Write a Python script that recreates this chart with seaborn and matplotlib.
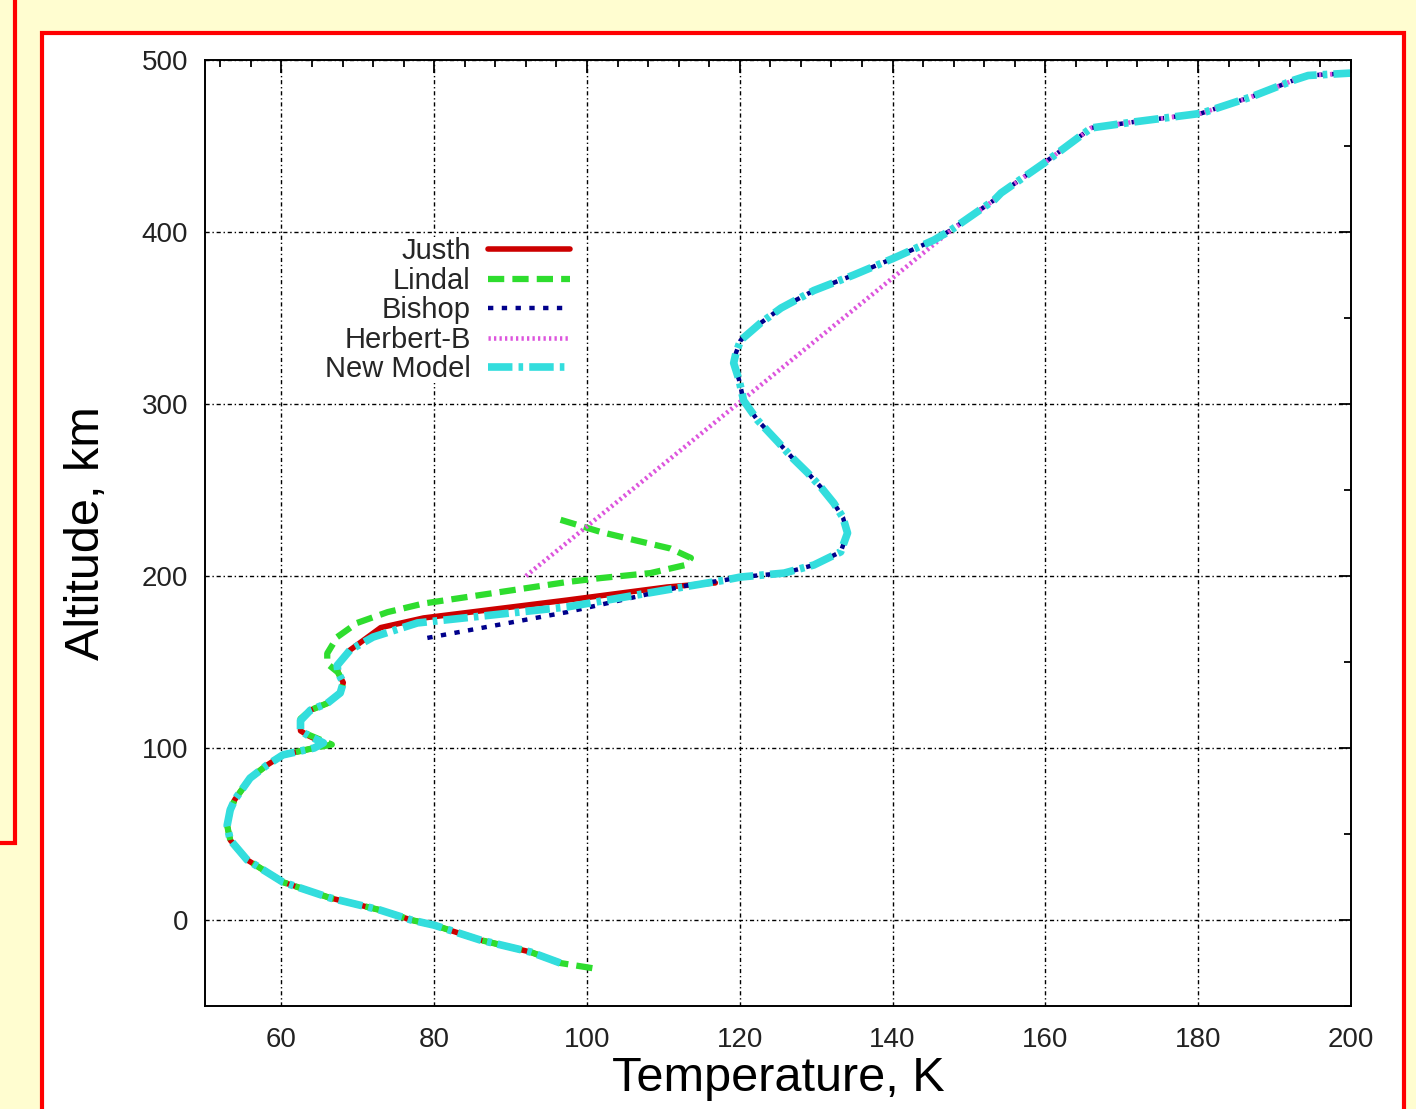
#!/usr/bin/env python3
"""
Temperature-altitude profiles: Justh, Lindal, Bishop, Herbert-B, New Model
"""
import matplotlib
matplotlib.use('Agg')
import pandas as pd
import matplotlib.pyplot as plt
import seaborn as sns
from matplotlib.patches import Rectangle
from matplotlib.ticker import MultipleLocator

sns.set_theme(style='white')
plt.rcParams['font.family'] = ['Liberation Sans', 'DejaVu Sans']

# common lower profile (Justh / New Model)
LOW_T = [96.5, 92.6, 86.0, 80.0, 77.0, 72.9, 66.4, 60.2, 55.5, 53.3, 52.9, 53.3, 53.9,
         55.9, 58.1, 60.2, 64.3, 65.5, 63.6, 62.5, 62.5, 63.8, 66.0, 67.7, 68.1, 67.4, 67.3]
LOW_ALT = [-25, -18.6, -11.6, -3, 0, 5.8, 12.8, 22, 35, 46.5, 55, 64, 70,
           82.5, 90, 96, 100, 103, 107, 110, 116, 122, 126, 132, 138, 144, 148]

# common upper profile (New Model / Bishop / Herbert-B)
UP_T = [117.9, 120.1, 125.8, 129.7, 133.2, 134.1, 133.5, 132.3, 130.6, 128.9, 126.9, 125.0,
        122.3, 120.5, 119.9, 119.2, 119.5, 120.1, 122.7, 125.4, 129.7, 134.9, 140.2, 145.4,
        147.6, 153.3, 154.2, 159.8, 166.0, 171.6, 180.4, 186.9, 192.6, 194.4, 200.0]
UP_ALT = [197.5, 199.4, 201.7, 206.4, 214, 225, 234, 242.4, 251.7, 259.9, 268.6, 277.9,
          290.7, 302, 314, 323.8, 329.7, 337, 347, 355.8, 366, 375, 384.9, 395.3,
          401, 418.6, 422.7, 440, 460.5, 464, 469, 478.5, 488.4, 491, 492.4]

JUSTH_T = LOW_T + [69.0, 73.0, 78.6, 97.4, 110.5, 116.8]
JUSTH_ALT = LOW_ALT + [157, 170, 175.6, 186, 193.6, 196]

LINDAL_T = [100.7, 96.5, 92.6, 86.0, 80.0, 77.0, 72.9, 66.4, 60.2, 55.5, 53.3, 52.9, 53.3,
            53.9, 55.9, 58.1, 60.2, 64.3, 66.6, 65.0, 63.4, 62.5, 62.5, 63.8, 66.0, 67.7,
            68.1, 67.4, 66.0, 66.0, 67.3, 69.9, 73.9, 78.6, 97.4, 101.8, 108.3, 112.9,
            113.6, 110.9, 106.1, 101.8, 96.3]
LINDAL_ALT = [-28, -25, -18.6, -11.6, -3, 0, 5.8, 12.8, 22, 35, 46.5, 55, 64,
              70, 82.5, 90, 96, 100, 102, 105, 108, 112, 117, 122, 126, 132,
              138, 144, 149, 155, 164.5, 172.7, 179, 184, 196.5, 198.8, 201.7, 206.4,
              210.5, 216, 221, 225.6, 233]

BISHOP_T = [79.1, 97.4, 113.6] + UP_T
BISHOP_ALT = [164, 179, 195] + UP_ALT

HERBERT_T = [92.0, 147.4] + UP_T[25:]
HERBERT_ALT = [200, 400] + UP_ALT[25:]

NEW_T = LOW_T + [69.0, 72.0, 77.8, 97.4, 112.6] + UP_T
NEW_ALT = LOW_ALT + [157, 164.5, 172.7, 182, 193.6] + UP_ALT

SERIES = [
    ('Justh', JUSTH_T, JUSTH_ALT, '#CC0000', 4.0, '-'),
    ('Lindal', LINDAL_T, LINDAL_ALT, '#2EDD2E', 4.5, (0, (2.6, 1.3))),
    ('Bishop', BISHOP_T, BISHOP_ALT, '#00008B', 3.2, (0, (1.2, 1.9))),
    ('Herbert-B', HERBERT_T, HERBERT_ALT, '#DD55DD', 3.3, (0, (0.5, 0.7))),
    ('New Model', NEW_T, NEW_ALT, '#33DDDD', 5.5, (0, (3.2, 0.8, 0.6, 0.8))),
]


def main():
    fig = plt.figure(figsize=(14.16, 11.09), dpi=100, facecolor='#FFFDD0')

    # 红色边框
    fig.add_artist(Rectangle((42 / 1416, -0.02), (1404 - 42) / 1416, 1.02 - 33 / 1109,
                             transform=fig.transFigure, facecolor='white',
                             edgecolor='#FF0000', linewidth=3.0, zorder=-1))
    fig.add_artist(Rectangle((-20 / 1416, 1 - 843 / 1109), 35 / 1416, 1.0,
                             transform=fig.transFigure, fill=False,
                             edgecolor='#FF0000', linewidth=3.0, zorder=-1))

    ax = fig.add_axes([205 / 1416, 1 - 1006 / 1109, (1351 - 205) / 1416, (1006 - 60) / 1109])
    ax.set_facecolor('white')

    for name, t, alt, color, lw, ls in SERIES:
        df = pd.DataFrame({'T': t, 'alt': alt})
        sns.lineplot(data=df, x='T', y='alt', sort=False, estimator=None, ax=ax,
                     color=color, linewidth=lw, linestyle=ls, label=name)

    ax.set_xlim(50, 200)
    ax.set_ylim(-50, 500)
    ax.xaxis.set_minor_locator(MultipleLocator(4))
    ax.yaxis.set_major_locator(MultipleLocator(100))
    ax.yaxis.set_minor_locator(MultipleLocator(50))
    ax.set_xticks(range(60, 201, 20))
    ax.tick_params(which='both', direction='in', top=True, right=True,
                   color='black', width=1.3, labelsize=20, labelcolor='#222222')
    ax.tick_params(which='major', length=9)
    ax.tick_params(axis='x', which='major', pad=15)
    ax.tick_params(axis='y', which='major', pad=12)
    ax.tick_params(which='minor', length=5)

    ax.set_axisbelow(True)
    ax.grid(True, which='major', color='black', linestyle=(0, (3, 2, 1, 2)), linewidth=1.0)
    for s in ax.spines.values():
        s.set_color('black')
        s.set_linewidth(1.4)

    ax.set_xlabel('Temperature, K', fontsize=35, labelpad=2, color='black')
    ax.set_ylabel('Altitude, km', fontsize=35, labelpad=24, color='black')

    leg = ax.legend(loc='upper right', bbox_to_anchor=(0.3185, 0.8125), markerfirst=False,
                    frameon=True, fancybox=False, fontsize=21, handlelength=2.8,
                    handletextpad=0.6, labelspacing=0.05, borderpad=0, borderaxespad=0)
    leg.get_frame().set_facecolor('white')
    leg.get_frame().set_edgecolor('none')
    leg.get_frame().set_alpha(1.0)

    fig.savefig('out.png', dpi=100, facecolor=fig.get_facecolor())
    plt.close(fig)


if __name__ == "__main__":
    main()
